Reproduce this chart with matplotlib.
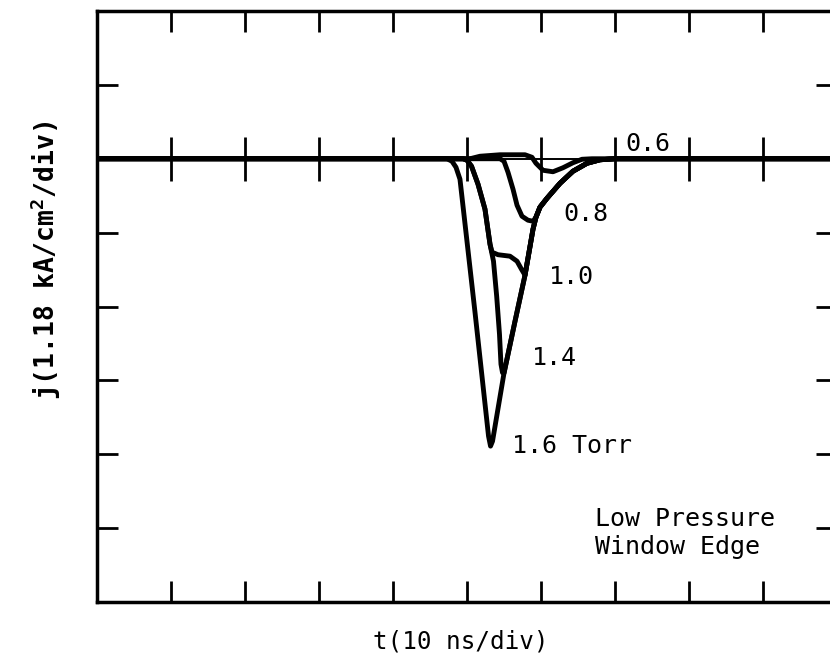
import matplotlib
matplotlib.use("Agg")
import matplotlib.pyplot as plt

# ---- data (time in divisions of 10 ns, current density in divisions) ----
envelope_t = [5.500, 5.649, 5.784, 5.845, 5.892, 5.932, 5.986, 6.081, 6.257, 6.432, 6.622, 6.797, 7.0, 10.0]
envelope_j = [-2.902, -2.199, -1.576, -1.225, -0.954, -0.792, -0.656, -0.535, -0.332, -0.169, -0.061, -0.014, 0.0, 0.0]

t_16 = [0.0, 4.730, 4.797, 4.851, 4.905, 5.108, 5.291, 5.318, 5.345]
j_16 = [0.0, 0.0, -0.034, -0.115, -0.277, -2.077, -3.755, -3.890, -3.823]

t_14 = [0.0, 4.946, 5.000, 5.061, 5.149, 5.243, 5.311, 5.358, 5.401, 5.439, 5.459, 5.480]
j_14 = [0.0, 0.0, -0.020, -0.101, -0.345, -0.683, -1.157, -1.387, -1.861, -2.375, -2.781, -2.896]

t_10 = [0.0, 4.946, 5.000, 5.061, 5.149, 5.243, 5.311, 5.338, 5.419, 5.581, 5.676, 5.736, 5.784]
j_10 = [0.0, 0.0, -0.020, -0.101, -0.345, -0.683, -1.157, -1.265, -1.299, -1.319, -1.387, -1.495, -1.576]

t_08 = [0.0, 5.446, 5.500, 5.554, 5.622, 5.676, 5.743, 5.824, 5.892]
j_08 = [0.0, 0.0, -0.034, -0.183, -0.413, -0.629, -0.778, -0.832, -0.846]

t_06 = [0.0, 5.041, 5.176, 5.446, 5.784, 5.878, 5.932, 6.027, 6.162, 6.297, 6.432, 6.554, 6.689, 10.0]
j_06 = [0.0, 0.0, 0.034, 0.054, 0.054, 0.020, -0.061, -0.156, -0.176, -0.122, -0.054, -0.007, 0.0, 0.0]

pressure_labels = ["0.6", "0.8", "1.0", "1.4", "1.6 Torr"]
x_ticks = [1, 2, 3, 4, 5, 6, 7, 8, 9]
y_ticks = [1, -1, -2, -3, -4, -5]

def with_envelope(t, j, start):
    # join a trace onto the shared recovery envelope from index `start`
    return t + envelope_t[start:], j + envelope_j[start:]

curves = [
    (t_06, j_06),
    with_envelope(t_08, j_08, 5),
    with_envelope(t_10, j_10, 3),
    with_envelope(t_14, j_14, 0),
    with_envelope(t_16, j_16, 0),
]

plt.rcParams['mathtext.fontset'] = 'custom'
plt.rcParams['mathtext.rm'] = 'DejaVu Sans Mono'
plt.rcParams['mathtext.bf'] = 'DejaVu Sans Mono:bold'

W, H = 830, 659
fig = plt.figure(figsize=(W / 100, H / 100), dpi=100)
ax = fig.add_axes([97 / W, 57 / H, 740 / W, 591 / H])
ax.set_xlim(0, 10)
ax.set_ylim(-6, 2)

# baseline
ax.axhline(0, color='black', lw=1.4, zorder=2)
for t, j in curves:
    ax.plot(t, j, color='black', lw=3.5, solid_joinstyle='round',
            solid_capstyle='round', zorder=3)

# ticks on zero line
ax.vlines(x_ticks, -0.3, 0.3, color='black', lw=2.0, zorder=3)

for s in ax.spines.values():
    s.set_linewidth(2.5)
ax.set_xticks(x_ticks)
ax.set_yticks(y_ticks)
ax.tick_params(direction='in', length=15, width=2.0, top=True, right=True,
               labelbottom=False, labelleft=False)

mono = 'DejaVu Sans Mono'
fs = 18
label_pos = [(7.135, 0.10), (6.297, -0.846), (6.108, -1.698), (5.878, -2.794), (5.608, -3.985)]
for txt, (x, y) in zip(pressure_labels, label_pos):
    ax.text(x, y, txt, family=mono, fontsize=fs, ha='left', va='baseline')

ax.text(6.73, -4.973, "Low Pressure", family=mono, fontsize=fs, ha='left', va='baseline')
ax.text(6.73, -5.352, "Window Edge", family=mono, fontsize=fs, ha='left', va='baseline')

fig.text(461 / W, 1 - 641 / H, "t(10 ns/div)", family=mono, fontsize=17.5,
         ha='center', va='center')
fig.text(46 / W, 1 - 260 / H, r"j(1.18 kA/cm$^{\mathbf{2}}$/div)", family=mono,
         fontsize=19, weight='bold', rotation=90, ha='center', va='center')

fig.savefig("out.png", dpi=100, facecolor='white')
